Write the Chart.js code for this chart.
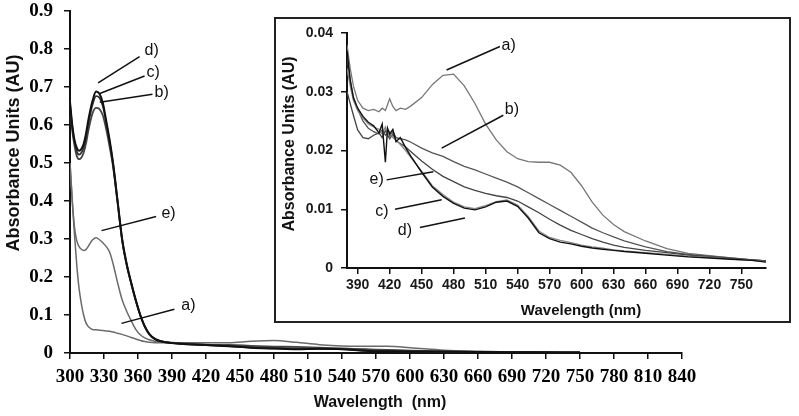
<!DOCTYPE html>
<html>
<head>
<meta charset="utf-8">
<script src="https://cdn.jsdelivr.net/npm/chart.js@4.4.1/dist/chart.umd.min.js"></script>
<style>
  body { margin: 0; background: #fff; }
  #wrap { position: relative; width: 799px; height: 416px; }
  #mainChart { position: absolute; left: 0; top: 0; }
  #insetBox { position: absolute; left: 274px; top: 17px; width: 513px; height: 302px;
              border: 2px solid #222; background: #fff; }
</style>
</head>
<body>
<div id="wrap">
  <canvas id="mainChart" width="799" height="416"></canvas>
  <div id="insetBox"><canvas id="insetChart" width="513" height="302"></canvas></div>
</div>
<script>
/* Full spectra, 300-750 nm */
const mainWavelengths = [300, 302, 304, 306, 308, 310, 312, 314, 316, 318, 320, 323, 326, 329, 332, 335, 338, 342, 346, 350,
  354, 358, 362, 366, 370, 375, 380, 390, 400, 420, 440, 460, 480, 500, 520, 540, 560, 580, 600, 630, 660, 690, 720, 750];
const mainA = [0.50, 0.40, 0.31, 0.23, 0.17, 0.13, 0.10, 0.08, 0.07, 0.065, 0.062, 0.061, 0.060, 0.059, 0.058, 0.057, 0.055, 0.052, 0.049, 0.045,
  0.041, 0.037, 0.033, 0.030, 0.028, 0.027, 0.027, 0.027, 0.027, 0.027, 0.027, 0.031, 0.033, 0.028, 0.022, 0.0186, 0.018, 0.0175, 0.014, 0.0075, 0.0045, 0.0028, 0.0021, 0.0016];
const mainB = [0.65, 0.585, 0.545, 0.518, 0.51, 0.514, 0.527, 0.55, 0.582, 0.61, 0.632, 0.645, 0.642, 0.625, 0.588, 0.542, 0.49, 0.395, 0.297, 0.232,
  0.184, 0.138, 0.10, 0.07, 0.05, 0.037, 0.031, 0.027, 0.025, 0.022, 0.021, 0.019, 0.017, 0.016, 0.014, 0.012, 0.010, 0.008, 0.006, 0.004, 0.003, 0.0022, 0.0018, 0.0014];
const mainC = [0.655, 0.595, 0.555, 0.53, 0.522, 0.527, 0.54, 0.565, 0.60, 0.63, 0.655, 0.676, 0.672, 0.65, 0.605, 0.555, 0.497, 0.398, 0.298, 0.233,
  0.183, 0.138, 0.099, 0.069, 0.049, 0.036, 0.031, 0.026, 0.024, 0.021, 0.018, 0.014, 0.012, 0.0102, 0.011, 0.0105, 0.0065, 0.0047, 0.0041, 0.0034, 0.0028, 0.0023, 0.0019, 0.0014];
const mainD = [0.66, 0.60, 0.56, 0.54, 0.532, 0.537, 0.55, 0.575, 0.61, 0.64, 0.665, 0.688, 0.682, 0.658, 0.61, 0.56, 0.50, 0.40, 0.30, 0.235,
  0.185, 0.14, 0.10, 0.07, 0.05, 0.037, 0.031, 0.026, 0.024, 0.021, 0.018, 0.014, 0.012, 0.010, 0.011, 0.010, 0.006, 0.0045, 0.004, 0.0033, 0.0027, 0.0022, 0.0018, 0.0014];
const mainE = [0.50, 0.40, 0.33, 0.295, 0.28, 0.273, 0.27, 0.272, 0.28, 0.29, 0.298, 0.303, 0.298, 0.29, 0.28, 0.265, 0.235, 0.185, 0.14, 0.11,
  0.085, 0.062, 0.048, 0.04, 0.035, 0.031, 0.029, 0.026, 0.023, 0.021, 0.02, 0.017, 0.015, 0.013, 0.0125, 0.0115, 0.009, 0.0075, 0.006, 0.0045, 0.0035, 0.0027, 0.0021, 0.0016];

/* Inset, 380-773 nm */
const insetWavelengths = [380, 383, 386, 390, 395, 400, 405, 410, 413, 416, 418, 420, 423, 426, 430, 435, 440, 450, 460, 470, 480, 490,
  500, 510, 520, 530, 540, 550, 560, 570, 580, 590, 600, 610, 620, 630, 640, 660, 680, 700, 720, 740, 760, 773];
const insetA = [0.038, 0.034, 0.031, 0.0285, 0.0272, 0.0268, 0.027, 0.0266, 0.0272, 0.0268, 0.0278, 0.0288, 0.0275, 0.0268, 0.0272, 0.027, 0.0276, 0.029, 0.0312, 0.0328, 0.033, 0.031,
  0.028, 0.0245, 0.0218, 0.0198, 0.0186, 0.0181, 0.018, 0.018, 0.0175, 0.0163, 0.014, 0.0112, 0.009, 0.0074, 0.0062, 0.0046, 0.0033, 0.0025, 0.0021, 0.0017, 0.0014, 0.0012];
const insetB = [0.036, 0.032, 0.029, 0.027, 0.025, 0.0238, 0.0232, 0.0228, 0.0235, 0.0226, 0.023, 0.0224, 0.0232, 0.0222, 0.022, 0.0218, 0.0214, 0.0204, 0.0196, 0.019, 0.0181, 0.0173,
  0.0167, 0.016, 0.0153, 0.0146, 0.0138, 0.0128, 0.0118, 0.0108, 0.0098, 0.0088, 0.0078, 0.0068, 0.006, 0.0053, 0.0046, 0.0036, 0.0028, 0.0023, 0.002, 0.0017, 0.0014, 0.0012];
const insetC = [0.034, 0.031, 0.0285, 0.0268, 0.0255, 0.0245, 0.024, 0.0236, 0.0228, 0.024, 0.0225, 0.0232, 0.0222, 0.0218, 0.021, 0.02, 0.0188, 0.0165, 0.014, 0.0125, 0.0112, 0.0104,
  0.0101, 0.0106, 0.0113, 0.0116, 0.0107, 0.0088, 0.0063, 0.0052, 0.0047, 0.0043, 0.0039, 0.0036, 0.0034, 0.0031, 0.0029, 0.0026, 0.0023, 0.002, 0.0018, 0.0015, 0.0013, 0.0011];
const insetD = [0.037, 0.032, 0.029, 0.0272, 0.0258, 0.0248, 0.0242, 0.023, 0.0245, 0.018, 0.0238, 0.0228, 0.0236, 0.0215, 0.0222, 0.0205, 0.019, 0.0163, 0.0138, 0.0122, 0.011, 0.0102,
  0.0099, 0.0104, 0.0112, 0.0114, 0.0105, 0.0085, 0.006, 0.005, 0.0044, 0.0041, 0.0037, 0.0034, 0.0032, 0.003, 0.0028, 0.0025, 0.0022, 0.0019, 0.0017, 0.0015, 0.0013, 0.001];
const insetE = [0.030, 0.028, 0.026, 0.0235, 0.0222, 0.022, 0.0226, 0.023, 0.0222, 0.0234, 0.0226, 0.022, 0.0228, 0.0216, 0.0212, 0.0206, 0.0198, 0.0182, 0.0168, 0.0156, 0.0147, 0.0138,
  0.0132, 0.0127, 0.0123, 0.012, 0.0114, 0.0104, 0.0094, 0.0083, 0.0073, 0.0064, 0.0057, 0.005, 0.0044, 0.0039, 0.0035, 0.003, 0.0026, 0.0022, 0.0019, 0.0016, 0.0014, 0.0012];

const toPoints = (xs, ys) => xs.map((x, i) => ({ x: x, y: ys[i] }));

/* callout lines + labels in data units, free titles in canvas pixels */
const notes = {
  id: "notes",
  afterDraw(chart, args, opts) {
    const { ctx } = chart;
    const sx = chart.scales.x, sy = chart.scales.y;
    ctx.save();
    ctx.strokeStyle = "#111";
    ctx.lineWidth = 1.5;
    (opts.lines || []).forEach(l => {
      ctx.beginPath();
      ctx.moveTo(sx.getPixelForValue(l[0]), sy.getPixelForValue(l[1]));
      ctx.lineTo(sx.getPixelForValue(l[2]), sy.getPixelForValue(l[3]));
      ctx.stroke();
    });
    ctx.fillStyle = "#111";
    ctx.font = opts.labelFont;
    ctx.textBaseline = "middle";
    (opts.labels || []).forEach(t => {
      ctx.textAlign = t.align || "left";
      ctx.fillText(t.text, sx.getPixelForValue(t.x), sy.getPixelForValue(t.y));
    });
    (opts.titles || []).forEach(t => {
      ctx.save();
      ctx.font = t.font;
      ctx.textAlign = "center";
      ctx.fillStyle = "#111";
      ctx.translate(t.px, t.py);
      ctx.rotate(t.rot || 0);
      ctx.fillText(t.text, 0, 0);
      ctx.restore();
    });
    ctx.restore();
  }
};

const line = (label, xs, ys, color, width, smooth) => ({
  label: label,
  data: toPoints(xs, ys),
  borderColor: color,
  borderWidth: width,
  pointRadius: 0,
  fill: false,
  cubicInterpolationMode: smooth ? "monotone" : "default",
  tension: 0
});

const axisStyle = () => ({
  grid: { display: true, drawOnChartArea: false, drawTicks: true, tickLength: 6, color: "#111", lineWidth: 1.5 },
  border: { display: true, color: "#111", width: 2 }
});

// fixed axis sizes, no extra label overflow padding
const fixX = h => s => { s.height = h; s.paddingLeft = 0; s.paddingRight = 0; };
const fixY = w => s => { s.width = w; s.paddingTop = 0; s.paddingBottom = 0; };

/* Main chart */
new Chart(document.getElementById("mainChart"), {
  type: "line",
  data: {
    datasets: [
      line("d)", mainWavelengths, mainD, "#111", 2, true),
      line("c)", mainWavelengths, mainC, "#333", 1.8, true),
      line("b)", mainWavelengths, mainB, "#444", 1.8, true),
      line("e)", mainWavelengths, mainE, "#6a6a6a", 1.5, true),
      line("a)", mainWavelengths, mainA, "#6a6a6a", 1.5, true)
    ]
  },
  options: {
    responsive: false,
    animation: false,
    events: [],
    layout: { padding: { left: 0, right: 117, top: 11, bottom: 23 } },
    plugins: {
      legend: { display: false },
      tooltip: { enabled: false },
      notes: {
        labelFont: "16px 'Liberation Sans', Arial, sans-serif",
        lines: [
          [324.8, 0.711, 361.4, 0.78],
          [326.3, 0.683, 365.8, 0.729],
          [326.3, 0.66, 372.8, 0.681],
          [327.8, 0.322, 376, 0.359],
          [345.4, 0.078, 392.1, 0.115]
        ],
        labels: [
          { text: "d)", x: 365.8, y: 0.797 },
          { text: "c)", x: 367.5, y: 0.737 },
          { text: "b)", x: 374.6, y: 0.684 },
          { text: "e)", x: 380.7, y: 0.368 },
          { text: "a)", x: 398.2, y: 0.124 }
        ],
        titles: [
          { text: "Absorbance Units (AU)", px: 14, py: 153, rot: -Math.PI / 2, font: "bold 18px 'Liberation Sans', Arial, sans-serif" },
          { text: "Wavelength  (nm)", px: 380, py: 403, font: "bold 16px 'Liberation Sans', Arial, sans-serif" }
        ]
      }
    },
    scales: {
      x: Object.assign(axisStyle(), {
        type: "linear",
        min: 300,
        max: 840,
        afterFit: fixX(40),
        ticks: { stepSize: 30, autoSkip: false, maxRotation: 0, padding: 7, color: "#000",
                 font: { family: "'Liberation Serif', 'Times New Roman', serif", weight: "bold", size: 19 } }
      }),
      y: Object.assign(axisStyle(), {
        min: 0,
        max: 0.9,
        afterFit: fixY(70),
        ticks: { stepSize: 0.1, padding: 11, color: "#000",
                 font: { family: "'Liberation Serif', 'Times New Roman', serif", weight: "bold", size: 19 },
                 callback: v => (v === 0 ? "0" : v.toFixed(1)) }
      })
    }
  },
  plugins: [notes]
});

/* Inset chart */
new Chart(document.getElementById("insetChart"), {
  type: "line",
  data: {
    datasets: [
      line("d)", insetWavelengths, insetD, "#111", 1.4, false),
      line("c)", insetWavelengths, insetC, "#888", 1.3, false),
      line("e)", insetWavelengths, insetE, "#444", 1.3, false),
      line("b)", insetWavelengths, insetB, "#555", 1.3, false),
      line("a)", insetWavelengths, insetA, "#777", 1.3, false)
    ]
  },
  options: {
    responsive: false,
    animation: false,
    events: [],
    layout: { padding: { left: 0, right: 23, top: 14, bottom: 28 } },
    plugins: {
      legend: { display: false },
      tooltip: { enabled: false },
      notes: {
        labelFont: "16px 'Liberation Sans', Arial, sans-serif",
        lines: [
          [473.4, 0.0337, 523.4, 0.0377],
          [468.8, 0.0204, 526.6, 0.026],
          [417.2, 0.015, 461, 0.0164],
          [425, 0.0100, 468.8, 0.0116],
          [448.4, 0.0069, 490.6, 0.0085]
        ],
        labels: [
          { text: "a)", x: 525, y: 0.0379 },
          { text: "b)", x: 528, y: 0.0269 },
          { text: "e)", x: 414.5, y: 0.015, align: "right" },
          { text: "c)", x: 419, y: 0.0096, align: "right" },
          { text: "d)", x: 441, y: 0.0064, align: "right" }
        ],
        titles: [
          { text: "Absorbance Units (AU)", px: 14, py: 125, rot: -Math.PI / 2, font: "bold 16px 'Liberation Sans', Arial, sans-serif" },
          { text: "Wavelength (nm)", px: 305, py: 292, font: "bold 15px 'Liberation Sans', Arial, sans-serif" }
        ]
      }
    },
    scales: {
      x: Object.assign(axisStyle(), {
        type: "linear",
        min: 380,
        max: 773,
        afterFit: fixX(25),
        ticks: { stepSize: 30, includeBounds: false, autoSkip: false, maxRotation: 0, padding: 3, color: "#1a1a1a",
                 font: { family: "'Liberation Sans', Arial, sans-serif", weight: "bold", size: 14 } }
      }),
      y: Object.assign(axisStyle(), {
        min: 0,
        max: 0.04,
        afterFit: fixY(71),
        ticks: { stepSize: 0.01, padding: 8, color: "#1a1a1a",
                 font: { family: "'Liberation Sans', Arial, sans-serif", weight: "bold", size: 14 },
                 callback: v => (v === 0 ? "0" : v.toFixed(2)) }
      })
    }
  },
  plugins: [notes]
});
</script>
</body>
</html>
